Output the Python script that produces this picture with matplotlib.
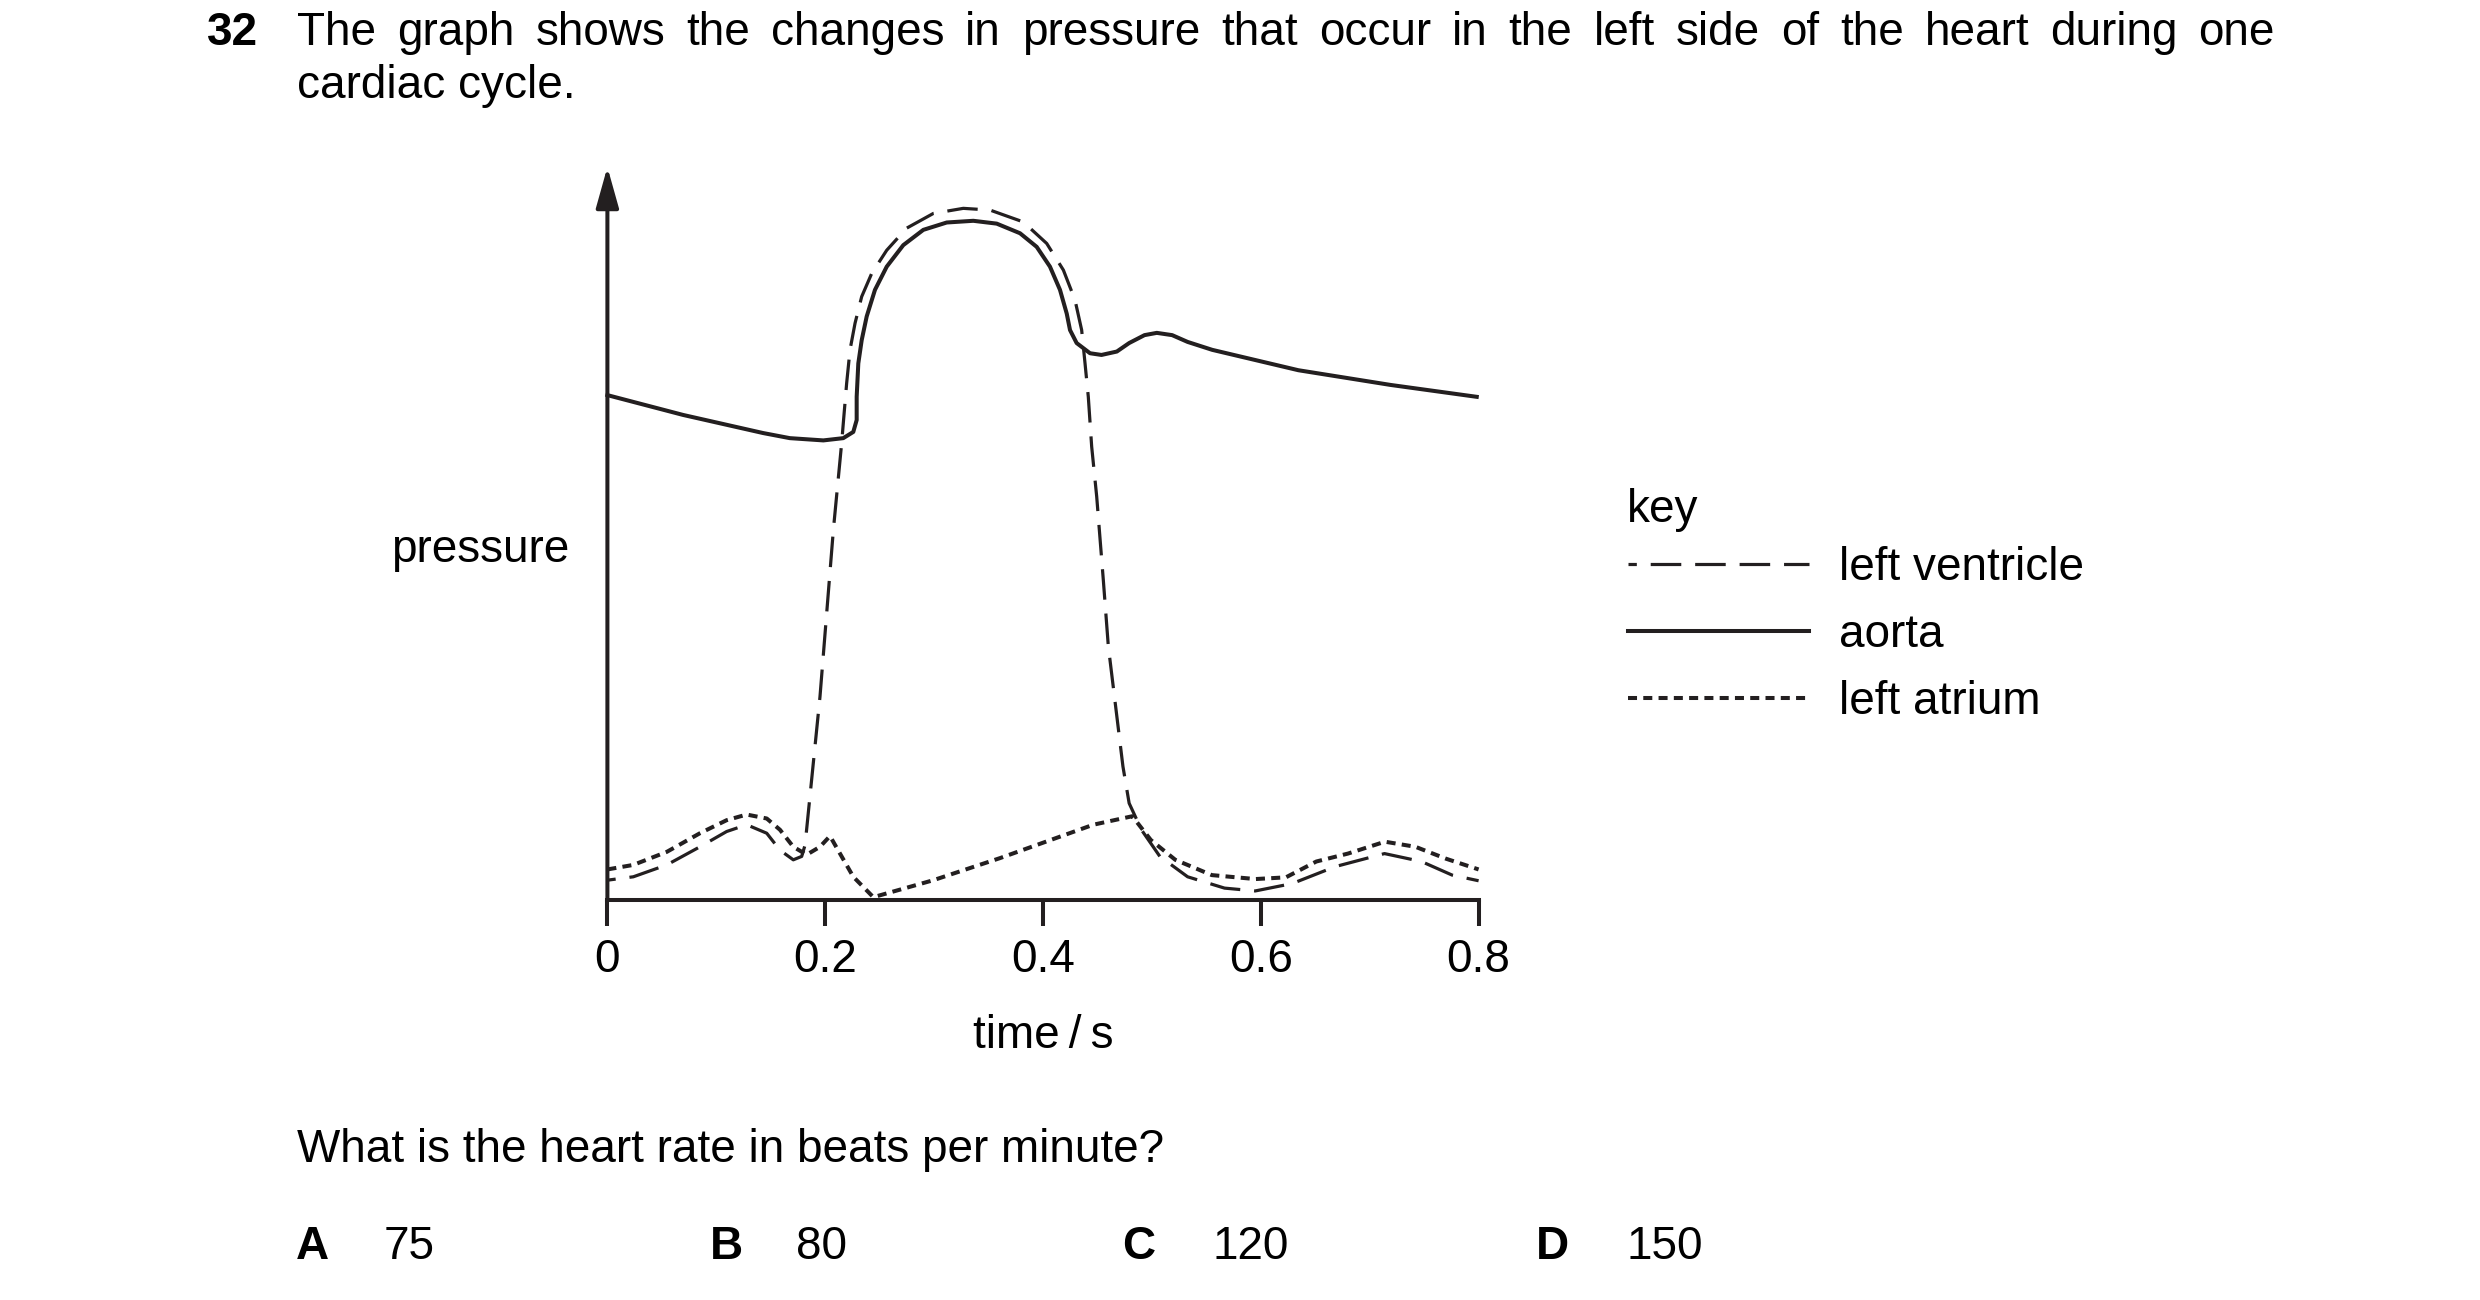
import matplotlib
matplotlib.use('Agg')
import matplotlib.pyplot as plt

plt.rcParams['font.family'] = ['Liberation Sans', 'DejaVu Sans']
plt.rcParams['lines.scale_dashes'] = False

# values: time in s, pressure in arbitrary units (aorta peak ~120)
t_aorta = [0.0, 0.0695, 0.143, 0.1675, 0.1983, 0.2166, 0.2258, 0.2289, 0.2289, 0.2304,
           0.2335, 0.2381, 0.2457, 0.2565, 0.2717, 0.2901, 0.3116, 0.3360, 0.3575, 0.3789,
           0.3942, 0.4064, 0.4156, 0.4218, 0.4248, 0.4309, 0.4432, 0.4537, 0.4678, 0.4791,
           0.4932, 0.5045, 0.5186, 0.5328, 0.5554, 0.6345, 0.7192, 0.7983]
p_aorta = [89.2, 85.7, 82.5, 81.6, 81.2, 81.6, 82.7, 84.8, 88.9, 94.8,
           98.9, 103.1, 107.8, 111.9, 115.7, 118.4, 119.7, 120.0, 119.5, 117.8,
           115.4, 111.9, 107.8, 103.6, 100.7, 98.4, 96.6, 96.3, 96.9, 98.4,
           99.8, 100.2, 99.8, 98.6, 97.2, 93.6, 91.0, 88.9]

t_ventricle = [0.0, 0.0238, 0.0545, 0.085, 0.1095, 0.1279, 0.1463, 0.1585, 0.1707, 0.1784,
               0.1815, 0.1952, 0.2075, 0.2151, 0.2166, 0.2197, 0.2228, 0.2274, 0.2335, 0.2427,
               0.2565, 0.2748, 0.2993, 0.3268, 0.3513, 0.3819, 0.4034, 0.4187, 0.4294, 0.4355,
               0.4386, 0.4416, 0.4447, 0.4493, 0.4554, 0.4600, 0.4734, 0.4791, 0.4904, 0.5073,
               0.5328, 0.5667, 0.5949, 0.6288, 0.6684, 0.7136, 0.7475, 0.7757, 0.800]
p_ventricle = [3.5, 4.1, 6.2, 9.4, 12.1, 13.3, 11.8, 8.8, 7.1, 7.7,
               9.7, 35.9, 65.4, 80.7, 84.2, 91.3, 97.2, 101.9, 106.6, 110.7,
               114.8, 118.7, 121.3, 122.2, 121.9, 119.8, 116.0, 111.3, 106.0, 100.7,
               94.8, 88.9, 80.1, 71.3, 56.5, 44.8, 23.6, 17.1, 12.4, 7.7,
               4.1, 2.1, 1.6, 2.9, 5.9, 8.2, 6.8, 4.4, 3.4]

t_atrium = [0.0, 0.0238, 0.0545, 0.085, 0.1095, 0.1279, 0.1463, 0.1585, 0.1707, 0.1830,
            0.1952, 0.2044, 0.2136, 0.2258, 0.2442, 0.2993, 0.3605, 0.4462, 0.482, 0.499,
            0.5215, 0.555, 0.595, 0.623, 0.651, 0.68, 0.714, 0.742, 0.770, 0.800]
p_atrium = [5.4, 6.2, 8.5, 11.8, 14.1, 15.1, 14.4, 12.4, 9.4, 8.0,
            9.4, 11.3, 8.2, 4.1, 0.5, 3.5, 7.4, 13.3, 14.8, 10.6,
            7.1, 4.4, 3.7, 4.0, 6.8, 8.2, 10.3, 9.4, 7.3, 5.4]

time_ticks = [0, 0.2, 0.4, 0.6, 0.8]
tick_labels = ['0', '0.2', '0.4', '0.6', '0.8']

question = "The graph shows the changes in pressure that occur in the left side of the heart during one"
question_end = "cardiac cycle."
prompt = "What is the heart rate in beats per minute?"
options = [('A', '75'), ('B', '80'), ('C', '120'), ('D', '150')]

ink = '#231f20'
fs = 33
W, H = 2480, 1300

def fx(px):
    return px / W

def fy(py):
    return 1 - py / H

fig = plt.figure(figsize=(W / 100, H / 100), dpi=100)

# axes placed so that t=0 sits at x=607px and p=0 at y=900px
x0, sx = 607.4, 1089.0
y0, sy = 900.0, 5.66
left, right, top, bottom = 450, 1560, 150, 1000
ax = fig.add_axes([fx(left), fy(bottom), (right - left) / W, (bottom - top) / H])
ax.set_xlim((left - x0) / sx, (right - x0) / sx)
ax.set_ylim((y0 - bottom) / sy, (y0 - top) / sy)

for s in ['top', 'right', 'left']:
    ax.spines[s].set_visible(False)
ax.spines['bottom'].set_position(('data', 0))
ax.spines['bottom'].set_bounds(0, 0.8)
ax.spines['bottom'].set_linewidth(2.9)
ax.spines['bottom'].set_color(ink)
ax.set_xticks(time_ticks)
ax.set_xticklabels(tick_labels)
ax.tick_params(axis='x', direction='out', length=18.5, width=2.9, color=ink,
               labelsize=fs, pad=9)
ax.set_yticks([])
ax.patch.set_alpha(0)

# y axis with arrow head
ax.annotate('', xy=(0, 129.5), xytext=(0, 0),
            arrowprops=dict(arrowstyle='-|>,head_length=1.25,head_width=0.35',
                            mutation_scale=20, lw=2.9, color=ink,
                            shrinkA=0, shrinkB=0))

lv, = ax.plot(t_ventricle, p_ventricle, color=ink, lw=2.3,
              linestyle=(16, (22, 10)), label='left ventricle')
ao, = ax.plot(t_aorta, p_aorta, color=ink, lw=2.9, label='aorta')
la, = ax.plot(t_atrium, p_atrium, color=ink, lw=2.9,
              linestyle=(0, (6.5, 4.5)), label='left atrium')

ax.set_xlabel('time\u2009/\u2009s', fontsize=fs, va='baseline')
ax.xaxis.set_label_coords(fx(1043), fy(1048), transform=fig.transFigure)

fig.text(fx(391), fy(562), 'pressure', fontsize=fs, va='baseline')

fig.text(fx(1627), fy(522), 'key', fontsize=fs, va='baseline')
leg = ax.legend(handles=[lv, ao, la], loc='upper left',
                bbox_to_anchor=(fx(1628), fy(546)), bbox_transform=fig.transFigure,
                frameon=False, borderpad=0, borderaxespad=0, fontsize=fs,
                handlelength=3.95, handletextpad=0.66, labelspacing=0.5)

# question text, first line justified
fig.text(fx(207), fy(45), '32', fontsize=fs, fontweight='bold', va='baseline')
words = question.split()
word_texts = [fig.text(0, fy(45), w, fontsize=fs, va='baseline') for w in words]
renderer = fig.canvas.get_renderer()
widths = [t.get_window_extent(renderer).width for t in word_texts]
line_left, line_right = 297, 2275
gap = (line_right - line_left - sum(widths)) / (len(words) - 1)
xpos = line_left
for t, w in zip(word_texts, widths):
    t.set_x(fx(xpos))
    xpos += w + gap
fig.text(fx(297), fy(98), question_end, fontsize=fs, va='baseline')

fig.text(fx(297), fy(1162), prompt, fontsize=fs, va='baseline')
letter_x = [296, 710, 1122, 1536]
value_x = [384, 796, 1212, 1626]
for (letter, value), lx, vx in zip(options, letter_x, value_x):
    fig.text(fx(lx), fy(1259), letter, fontsize=fs, fontweight='bold', va='baseline')
    fig.text(fx(vx), fy(1259), value, fontsize=fs, va='baseline')

fig.savefig('out.png', dpi=100, facecolor='white')
